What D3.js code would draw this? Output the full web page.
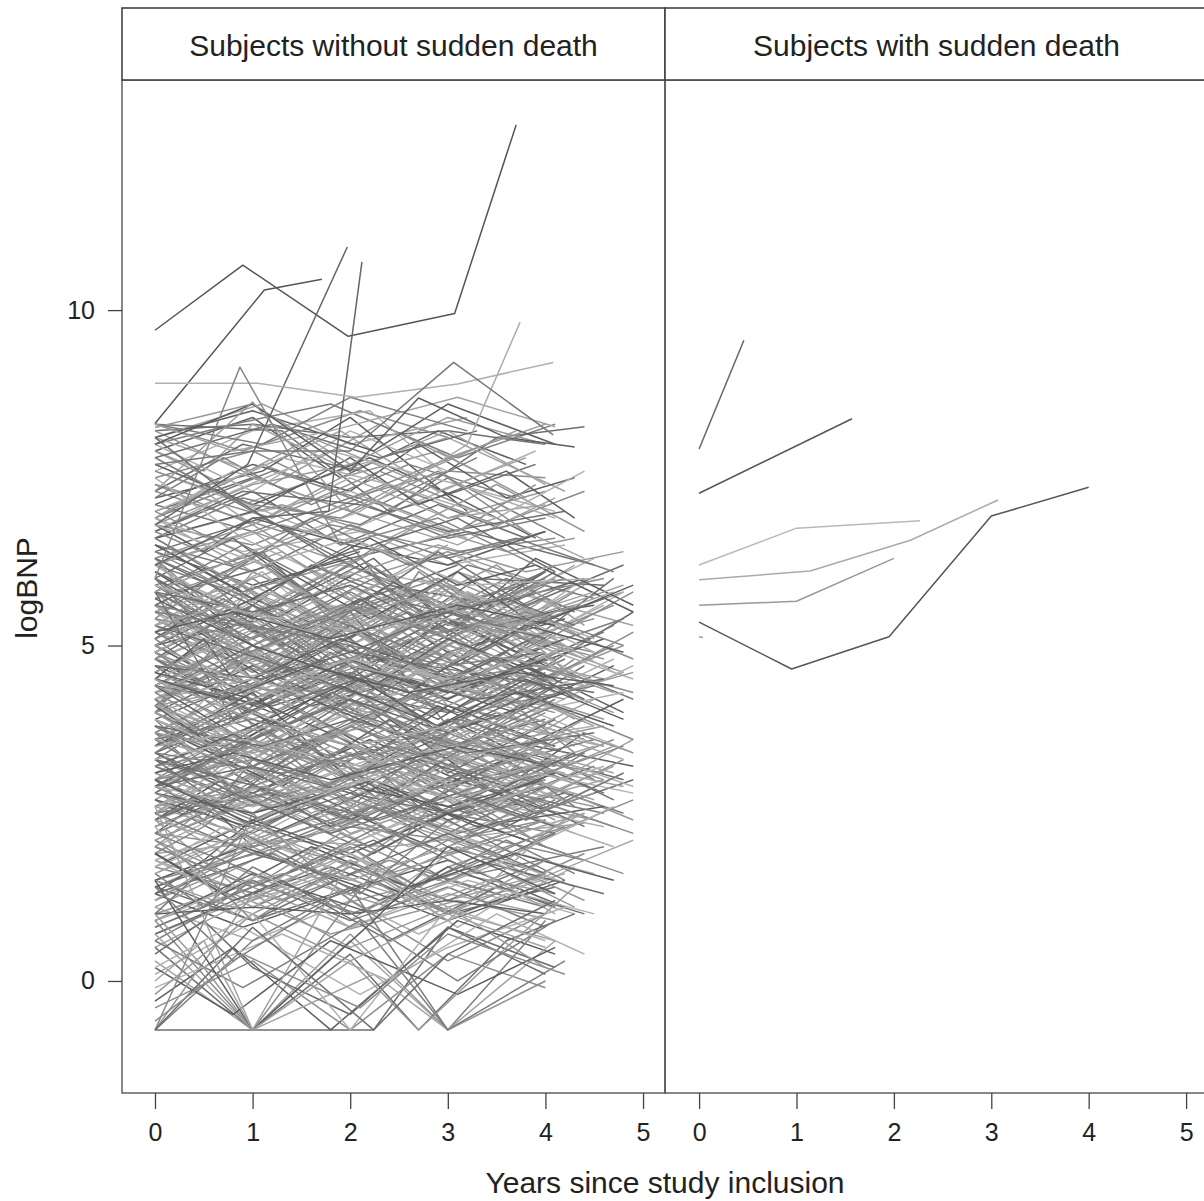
<!DOCTYPE html>
<meta charset="utf-8">
<style>
  body { margin: 0; background: #fff; font-family: "Liberation Sans", Arial, sans-serif; }
  .tick text { font-size: 25px; fill: #222; font-family: "Liberation Sans", Arial, sans-serif; }
  .tick line { stroke: #444; stroke-width: 1.3; }
  .lab { font-size: 30px; fill: #222; }
  path.subj { fill: none; stroke-width: 1.5; stroke-linejoin: round; }
</style>
<body>
<script src="https://cdn.jsdelivr.net/npm/d3@7"></script>
<script>

// visit schedules (years since inclusion)
var visitTimes = [
  [0, 1, 2, 3, 4],
  [0, 0.9, 2.1, 3, 4.2],
  [0, 1.1, 2, 3.2, 4.5],
  [0, 1, 1.9, 2.9, 3.8, 4.8],
  [0, 1.2, 2.3, 3.3, 4.6],
  [0, 0.8, 1.8, 3.1, 4.1],
  [0, 1, 2.2, 3.1, 3.9, 4.9],
  [0, 1.3, 2.4, 3.5, 4.4],
  [0, 0.5, 1, 2, 3, 4],
  [0, 1, 2, 2.7, 3.6, 4.3],
  [0, 1, 2.24, 3, 4.1],
  [0, 0.7, 1.6, 2.6, 3.7, 4.7]
];

// subjects without sudden death: [schedule, logBNP at each visit...]
var leftSubjects = [
  // upper band
  [0,8.2,8.3,8.1,8.2,8.0],[1,8.3,7.9,8.5,8.1],[2,8.1,8.6,8.0,8.4],[3,7.9,8.4,7.5,8.2,7.7],
  [4,8.2,7.4,8.3,7.6],[5,8.0,8.3,8.6,7.8,8.3],[6,7.6,8.2,8.5,7.4,7.9],[7,8.3,8.2,7.0,8.1,8.26],
  [0,7.5,7.9,7.2,7.6,7.5],[1,7.8,7.1,7.7,8.1,7.3],[2,7.2,7.6,8.4,7.0],[3,7.4,6.8,7.5,7.9,7.2],
  [4,6.9,7.6,7.1,7.8],[5,7.7,7.2,6.6,7.4,7.0],[6,7.0,7.5,6.9,7.3,7.7],[7,7.3,6.7,7.4,6.8,7.3],
  [8,7.9,7.6,8.3,7.6,8.2,7.4],[9,7.1,7.7,7.3,8.0,7.2,7.5],[0,6.8,7.4,7.7,6.9,7.3],[1,6.6,7.2,6.8,7.5,6.6],
  [2,7.6,7.0,7.3,6.6],[3,6.7,7.3,6.5,7.1,6.6],[4,7.4,6.9,7.6,7.0],[5,6.9,7.6,7.1,6.5,7.2],
  [6,7.7,7.1,7.8,7.2,6.6],[7,6.6,7.1,6.6,7.4,6.7],[11,7.2,7.8,7.1,7.7,7.2],[0,8.0,7.3,8.2,7.6],
  [1,7.3,8.0,7.6],[2,6.9,7.7,7.2,7.9],[3,8.1,7.6,8.2,7.3,7.8],[9,6.6,7.0,7.8,7.1,7.6,6.9],
  [11,7.9,7.4,8.1,7.5,8.2],[0,7.1,6.7,7.2,6.6,6.9],[5,6.7,7.3,7.9,7.4,6.9],[4,7.8,8.3,7.8,8.2],
  [6,6.8,6.5,7.2,6.7,7.4],[8,6.9,7.3,6.8,7.5,6.9,7.1],[10,8.1,8.5,7.9,8.6,8.0],[0,8.25,8.6,7.7,8.4,8.0],
  [2,8.3,8.0,8.7,8.2],[7,7.0,7.8,7.4,6.9,7.6],[1,6.7,7.3,7.1,6.7,7.0],[3,7.6,7.1,6.9,7.6,6.7],
  [5,8.3,7.9,8.2,8.7,8.26],[9,8.0,8.6,7.6,8.69,8.1,7.96],[0,7.3,8.63,7.0,7.8,8.3],
  [0,6.5,6.1,6.8,6.3,6.7],[1,6.9,6.4,6.7,6.2,6.5],[2,6.4,6.9,6.3,6.7,6.2],[5,6.7,6.2,6.8,6.4,6.6],
  [7,6.2,6.8,6.4,6.9,6.3],[8,6.8,6.4,6.9,6.5,6.2,6.7],[9,6.3,6.7,6.2,6.8,6.4,6.6],[0,7.8,7.0,6.2,5.6,6.0],
  [1,7.5,6.6,5.8,6.4,5.5],[5,8.1,7.2,6.3,6.9,6.1],[3,7.0,6.3,5.5,6.0,5.3,5.8],[9,6.9,6.1,5.4,6.0,5.6,6.2],
  // middle band
  [0,6.4,5.9,6.3,5.2,6.1],[1,6.2,5.4,6.0,6.4,5.8],[2,5.9,6.4,5.1,6.2,5.7],[3,6.1,5.5,6.2,5.9,5.0,5.8],
  [4,5.7,6.2,5.0,6.0,5.9],[5,6.3,5.3,6.1,5.5,6.0],[6,5.5,6.0,4.8,6.1,5.7,5.3],[7,6.0,5.0,5.9,5.6,6.0],
  [8,5.8,5.2,6.1,5.4,4.8,5.7],[9,6.2,5.7,6.5,5.3,6.0,5.5],[10,5.6,6.3,5.0,5.8,5.4],[11,6.0,5.3,6.2,5.6,4.9,6.0],
  [0,5.4,4.6,5.6,5.2,5.5],[1,5.2,5.9,4.7,5.5,5.0],[2,5.0,5.4,4.4,5.3,5.6],[3,5.3,4.6,5.4,5.9,5.1,4.6],
  [4,5.1,5.8,5.0,4.4,5.2],[5,5.5,4.7,5.6,5.2,4.5],[6,4.9,5.6,4.8,5.4,4.6,5.5],[7,5.2,4.5,5.3,5.8,5.1],
  [8,5.4,5.1,4.5,5.3,5.9,5.0],[9,5.0,5.7,5.1,4.4,5.3,5.6],[10,5.3,4.6,5.5,5.1,4.4],[11,5.1,5.7,4.9,5.5,4.6,5.3],
  [0,4.8,5.4,4.3,5.0,4.5],[1,4.6,5.3,4.5,4.0,4.8],[2,4.9,4.2,4.8,5.3,4.9],[3,4.5,5.1,4.3,4.9,4.1,4.6],
  [4,4.7,4.0,4.8,4.4,5.1],[5,4.4,5.0,4.2,4.9,4.3],[6,4.6,4.0,4.9,4.3,4.8,4.2],[7,4.3,4.9,4.0,4.6,4.4],
  [8,4.7,4.2,4.9,4.3,4.0,4.7],[9,4.2,4.8,4.3,4.9,4.1,4.8],[10,4.5,3.9,4.6,4.2,4.9],[11,4.4,4.9,4.1,4.5,4.0,4.7],
  [0,6.6,5.8,5.2,6.0,5.4],[1,5.8,6.5,5.6,5.1,5.9],[2,6.2,5.3,6.1,5.4,6.3],[3,5.6,6.3,5.4,6.4,5.6,6.2],
  [4,6.4,5.5,6.5,5.6,6.0],[5,5.3,6.0,5.1,6.1,5.3],[6,6.1,5.2,6.2,5.3,6.3,5.6],[7,5.7,6.4,5.4,6.2,5.3],
  [8,6.3,6.0,5.4,6.2,5.5,6.1],[9,5.5,6.3,5.3,6.0,5.2,5.9],[10,6.1,5.4,6.3,5.3,6.2],[11,5.4,6.1,5.1,5.8,5.0,5.6],
  [0,5.0,5.8,4.8,5.6,5.1],[1,5.6,4.8,5.7,4.9,5.4],[2,5.5,4.8,5.6,4.9,5.4],[3,4.9,5.6,4.7,5.6,4.9,5.4],
  [4,5.4,4.6,5.5,4.7,5.6],[5,4.8,5.5,4.6,5.5,4.9],[6,5.6,4.8,5.5,4.7,5.4,4.8],[7,4.8,5.5,4.5,5.4,4.8],
  [8,5.1,5.6,5.0,4.5,5.4,4.7],[9,5.6,4.9,5.5,4.8,5.6,4.9],[10,4.9,5.6,4.6,5.4,4.8],[11,5.6,4.9,5.5,4.8,5.4,4.6],
  [0,4.3,5.0,4.0,4.9,4.2],[1,4.9,4.1,4.7,4.0,4.8],[2,4.2,4.9,3.9,4.6,3.8],[3,4.8,4.0,4.6,3.9,4.7,4.0],
  [4,4.2,4.8,3.8,4.5,3.9],[5,4.7,3.9,4.6,4.0,4.6],[6,4.3,4.9,3.9,4.6,4.0,4.7],[7,4.6,3.8,4.5,3.9,4.7],
  [8,4.1,4.7,3.8,4.6,4.1,3.8],[9,4.6,4.0,4.7,3.9,4.5,3.9],[10,4.0,4.7,3.9,4.7,4.1],[11,4.8,4.1,4.8,4.0,4.6,4.0],
  [0,5.9,5.0,5.8,5.1,5.9],[2,5.3,6.1,5.0,5.8,5.1],[4,6.0,5.1,5.8,5.0,5.7],[6,5.2,6.0,4.9,5.7,5.0,5.8],
  [8,5.6,5.0,5.9,5.2,5.9,5.1],[1,5.0,4.3,5.2,4.4,5.1],[3,4.6,5.3,4.3,5.2,4.4,5.0],[5,5.1,4.3,5.0,4.4,5.2],
  [7,4.5,5.3,4.4,5.2,4.4],[9,4.8,4.1,5.0,4.2,4.9,4.2],[11,4.6,5.2,4.2,5.1,4.3,5.0],[0,6.2,6.7,5.7,6.5],
  [1,6.5,5.8,6.4],[2,4.4,5.2,4.1],[3,5.8,5.0],[4,4.9,5.8,4.6,5.3,4.4],[5,6.0,6.6,5.5,6.2],
  [6,4.4,5.2,4.3,5.1,4.4,5.2],[7,5.9,5.1,6.0,5.2,5.9],[8,4.5,5.1,4.1,4.8,4.2,4.9],[9,5.3,4.5,5.3,4.6,5.4,4.5],
  [10,5.8,5.1,6.0,5.2,6.1],[11,4.2,4.8,3.9,4.7,4.1,4.8],[0,5.2,4.4,5.3,4.5,5.2],[1,4.1,4.8,3.8,4.5],
  [4,5.5,6.1,5.1,5.7],[6,5.8,6.4,5.4,6.1,5.3,5.9],[3,5.0,4.4,5.3,4.6,5.4,5.9],[0,6.0,4.5,5.5,3.8,4.6],
  [2,3.5,5.0,4.2,5.8,4.9],[5,5.8,3.9,4.9,3.5,4.4],[9,4.0,5.6,4.5,6.1,5.2,5.8],[1,6.3,4.8,5.6,4.1,5.0],
  [6,6.5,5.7,6.6,5.9,6.2,5.5],[3,6.3,6.8,6.0,6.5,6.1,6.4],[11,6.6,6.0,6.9,6.2,6.6,6.1],[2,6.8,6.2,6.6,5.9,6.0],
  [0,6.3,5.6,4.9,5.5,5.1],[1,5.1,5.8,6.3,5.5,6.0],[2,4.6,5.3,5.9,5.2,5.8],[3,3.9,4.5,5.1,4.6,5.3,4.9],
  [4,5.9,5.2,4.6,5.3,4.8],[5,4.1,4.8,5.4,4.7,5.5],[6,3.6,4.3,4.9,4.4,5.0,4.5],[7,5.3,4.7,4.1,4.8,4.2],
  [8,4.9,4.4,5.0,5.6,5.1,5.7],[9,3.7,4.4,3.9,4.6,4.1,4.7],[10,5.7,5.0,4.4,5.1,4.5],[11,3.4,4.0,4.6,4.1,4.8,4.3],
  [0,5.6,5.3,5.0,4.7,4.9],[1,5.9,5.5,5.2,5.4,5.1],[2,4.7,4.5,4.9,4.6,4.3],[3,5.4,5.1,5.6,5.2,5.5,5.0],
  [4,4.3,4.6,4.4,4.9,4.5],[5,5.2,5.5,5.1,5.6,5.3],[6,4.1,4.4,4.0,4.5,4.2,4.6],[7,5.5,5.2,5.7,5.3,5.6],
  [8,4.4,4.7,4.3,4.8,4.5,4.9],[9,5.8,5.5,5.9,5.4,5.7,5.3],[10,4.2,4.5,4.1,4.4,4.0],[11,5.3,5.6,5.2,5.7,5.3,5.8],
  [0,4.6,4.2,4.7,4.3,4.8],[1,4.0,4.4,4.1,4.6,4.2],[2,4.5,4.1,4.6,4.0,4.4],[3,4.2,4.5,4.1,4.4,4.0,4.3],
  [4,4.4,4.1,4.6,4.2,4.5],[6,4.8,4.4,4.9,4.5,4.7,4.3],[8,4.3,4.6,4.2,4.7,4.4,4.1],[11,4.5,4.2,4.7,4.3,4.6,4.4],
  // lower-middle band
  [0,3.8,3.1,3.9,3.2,3.6],[1,3.5,4.1,3.3,3.7,3.0],[2,3.2,3.8,2.9,3.5,3.8],[3,3.9,3.2,3.7,2.9,3.4,3.0],
  [4,3.0,3.6,2.8,3.4,3.1],[5,3.6,2.9,3.5,2.8,3.3],[6,3.3,2.8,3.6,3.0,3.5,3.2],[7,2.9,3.6,2.7,3.3,2.9],
  [8,3.7,3.1,3.6,3.0,3.5,2.9],[9,3.1,3.8,3.1,3.6,2.9,3.4],[10,3.4,2.8,3.5,2.9,3.3],[11,3.0,3.6,2.8,3.5,3.0,3.6],
  [0,2.6,3.2,2.4,3.0,2.7],[1,2.9,2.3,3.0,2.4,2.8],[2,2.5,3.1,2.2,2.8,2.4],[3,2.8,2.2,2.9,2.3,3.0,2.5],
  [4,2.4,3.0,2.1,2.7,2.3],[5,2.7,2.1,2.8,2.2,2.6],[6,2.3,2.9,2.0,2.6,2.1,2.7],[7,2.6,2.0,2.7,2.1,2.5],
  [8,2.2,2.7,2.0,2.5,1.9,2.4],[9,2.7,2.1,2.6,2.0,2.6,2.2],[10,2.1,2.7,1.9,2.5,2.2],[11,2.5,1.9,2.6,2.0,2.5,2.0],
  [0,4.0,3.3,4.2,3.5,3.9],[1,3.7,4.4,3.6,4.1,3.4],[2,4.1,3.4,4.0,3.3,4.2],[3,3.4,4.0,3.2,4.1,3.5,4.2],
  [4,3.9,3.2,4.0,3.4,3.8],[5,3.3,4.0,3.2,3.9,3.5],[6,4.2,3.5,4.1,3.3,4.0,3.4],[7,3.5,4.2,3.3,4.0,3.6],
  [8,3.4,3.9,3.2,3.8,3.3,4.0],[9,3.9,3.3,4.1,3.4,4.0,3.5],[10,3.6,4.2,3.4,4.1,3.5],[11,3.8,3.2,3.9,3.3,4.0,3.5],
  [0,3.2,2.6,3.4,2.7,3.1],[1,2.5,3.2,2.6,3.3,2.7],[2,3.0,2.4,3.1,2.5,3.2],[3,2.4,3.1,2.5,3.2,2.6,3.3],
  [4,3.3,2.6,3.2,2.5,3.0],[5,2.4,3.1,2.3,3.0,2.5],[6,3.1,2.5,3.2,2.4,3.0,2.4],[7,3.2,2.5,3.3,2.6,3.4],
  [8,2.8,3.3,2.6,3.2,2.7,3.3],[9,2.3,2.9,2.4,3.0,2.3,2.8],[10,3.0,2.4,3.2,2.5,3.1],[11,2.7,3.3,2.5,3.1,2.6,3.2],
  [0,3.5,4.3,3.0,3.9,3.2],[1,4.2,3.0,3.8,2.9,3.6],[2,2.8,3.7,2.6,3.9,3.0],[3,4.1,3.3,4.3,3.1,3.8,3.3],
  [4,2.9,3.9,2.7,3.6,2.8],[5,3.9,2.8,3.7,2.6,3.6],[6,2.7,3.5,2.5,3.8,2.8,3.6],[7,3.8,2.9,3.9,2.8,3.7],
  [8,2.5,3.0,3.6,2.7,3.4,2.6],[9,3.6,2.7,3.5,2.6,3.3,2.6],[10,2.6,3.4,2.4,3.6,2.7],[11,3.3,2.6,3.6,2.5,3.4,2.7],
  [0,2.2,2.0,2.3,2.1,2.4],[7,1.9,2.1,2.0,2.2,2.35],[1,4.4,3.6,4.5,3.7,4.3],[5,2.0,2.9,2.2,3.1,2.4],
  [2,3.7,3.0,3.8,3.1,3.6],[4,3.6,4.3,3.3,4.1,3.5],[6,2.6,3.2,2.4,3.1,2.5,3.0],[9,4.3,3.5,4.4,3.6,4.2,3.4],
  [3,3.1,2.5,3.3,2.4,3.2,2.9],[11,4.1,3.4,4.2,3.6,4.3,3.8],[0,4.5,3.6,3.0,3.8,2.9],[8,3.0,2.4,3.3,2.8,2.2,2.9],
  [1,2.2,2.8,2.1,2.7,2.3],[10,3.8,3.2,4.0,3.1,3.9],[6,3.8,3.2,4.3,3.4,4.2,3.6],[2,2.3,2.9,2.5,3.3,2.7],
  [4,2.7,2.2,2.9,2.3,2.6],[7,4.0,3.3,4.1,3.2,3.9],[5,4.2,3.4,4.3,3.5,4.1],[3,2.6,3.2,2.3,3.0,2.4,3.1],
  [0,2.9,3.6,4.2,3.7,4.4],[1,4.4,3.8,3.2,3.9,3.3],[2,2.1,2.8,3.4,2.9,3.5],[3,3.2,3.8,4.4,3.8,4.5,3.9],
  [4,4.1,3.5,2.9,3.6,3.0],[5,2.8,3.5,4.1,3.5,4.2],[6,2.0,2.7,3.3,2.8,3.4,2.9],[7,3.3,2.8,2.2,2.9,2.3],
  [8,1.9,2.3,2.9,3.5,3.0,3.6],[9,4.5,3.9,3.3,3.9,3.4,4.0],[10,1.7,2.4,3.0,2.5,3.1],[11,4.0,3.4,2.8,3.4,2.9,3.5],
  [0,3.6,3.9,3.5,3.8,3.4],[1,3.3,3.6,3.2,3.5,3.1],[2,3.8,3.5,3.9,3.4,3.7],[3,3.0,3.3,2.9,3.4,3.0,3.5],
  [4,3.5,3.8,3.4,3.9,3.5],[5,3.1,3.4,3.0,3.5,3.2],[6,3.7,3.4,3.8,3.5,3.9,3.4],[7,3.4,3.1,3.5,3.0,3.4],
  [8,3.9,3.6,4.0,3.5,3.8,3.4],[9,2.9,3.2,2.8,3.3,2.9,3.4],[10,3.2,3.5,3.1,3.6,3.2],[11,3.6,3.3,3.7,3.2,3.5,3.1],
  [0,2.8,2.5,2.9,2.6,3.0],[2,2.6,2.9,2.5,3.0,2.6],[4,2.5,2.8,2.4,2.9,2.5],[6,2.9,2.6,3.0,2.7,3.1,2.8],
  [8,2.4,2.7,2.3,2.8,2.5,2.9],[11,2.8,2.5,2.9,2.4,2.8,2.3],
  // lower band
  [0,1.6,2.3,2.9,2.3,3.0],[1,3.0,2.4,1.8,2.5,1.9],[2,1.5,2.1,2.7,2.2,2.8],[3,2.2,2.8,2.3,2.9,2.4,3.1],
  [4,1.8,2.5,3.1,2.6,3.2],[5,3.4,2.8,2.2,2.8,2.3],[6,1.4,2.0,2.6,2.1,2.7,2.2],[7,2.4,1.8,2.4,1.9,2.5],
  [8,1.3,1.8,2.4,1.9,2.5,2.0],[9,2.9,2.3,1.7,2.4,1.8,2.5],[10,2.5,1.9,2.6,2.0,2.7],[11,1.7,2.3,1.8,2.4,1.9,2.6],
  [0,1.4,1.9,1.5,2.0,1.6],[7,1.5,2.0,1.6,2.1,1.8],
  [0,1.8,1.3,1.9,1.2,1.6],[1,1.5,2.0,1.4,1.8,1.1],[5,1.2,1.7,1.1,1.6,1.3],[8,1.9,1.5,1.1,1.7,1.2,1.8],
  [9,1.0,1.5,0.9,1.6,1.2,1.7],[10,1.4,0.9,1.5,1.0,1.4],[7,1.7,1.2,1.8,1.3,1.9],[0,0.9,1.4,0.8,1.3,1.0],
  [1,1.3,0.8,1.4,0.9,1.5],[5,0.8,1.3,0.7,1.2,0.9],[8,1.6,1.1,1.7,1.0,1.5,1.1],[9,1.1,0.6,1.2,0.7,1.3,1.0],
  [10,2.0,1.4,2.1,1.5,2.2],[0,1.2,2.0,1.3,2.1,1.6],[1,0.7,1.2,1.8,1.1,1.6],[5,1.9,1.2,1.7,1.0,1.5],
  [7,1.0,1.6,1.1,1.8,1.2],[8,0.6,1.0,1.5,0.9,1.4,0.8],[9,1.8,1.1,1.9,1.3,1.8,1.4],[0,1.5,0.9,1.6,2.2,1.6],
  [1,2.1,1.5,1.0,1.7,2.3],[5,0.5,1.1,1.6,1.0,0.6],[10,0.9,1.6,1.0,1.7,1.1],[0,1.1,1.8,2.4,1.9,2.4],
  [9,0.8,1.4,2.0,1.4,2.1,1.6],[2,1.7,2.3,1.5,2.1,1.6],[4,1.3,1.9,1.2,1.8,1.3],[3,2.0,1.4,2.2,1.5,2.1,1.6],
  [6,1.6,2.2,1.4,2.0,1.5,2.1],[11,1.9,1.3,2.0,1.4,1.9,1.5],[0,2.4,1.2,2.0,1.0,1.8],[1,1.0,2.2,1.3,2.4,1.5],
  [5,2.3,1.0,2.1,0.8,1.7],[7,0.7,1.5,0.6,1.4,1.0],[8,2.1,1.6,0.9,1.8,1.0,1.6],[10,1.2,2.1,1.0,1.9,1.0],
  [0,1.0,1.1,1.0,1.2,1.0],[9,1.5,1.0,1.7,1.1,1.6,1.1],[4,2.2,1.5,2.3,1.6,2.0],[2,0.9,1.6,0.8,1.5,1.0],
  // floor band
  [10,-0.73,-0.73,-0.73,0.8,0.2],[0,0.9,-0.73,1.2,0.3,1.0],[0,0.3,-0.73,0.6,-0.73,0.0],[5,-0.3,0.5,-0.73,0.9,0.4],
  [8,1.0,0.2,-0.73,0.7,-0.73,0.0],[0,-0.73,0.6,1.4,-0.73,0.9],[1,0.1,0.8,-0.2,0.5,1.1],[9,0.5,-0.73,0.4,-0.73,0.6,1.0],
  [0,-0.4,0.3,-0.73,0.4,-0.1],[10,0.7,-0.73,0.1,-0.73,0.6],[5,0.2,-0.5,0.6,-0.2,0.5],[0,-0.73,1.3,0.5,1.1,0.2],
  [1,0.6,-0.1,0.9,-0.73,0.3],[7,-0.1,0.7,0.0,1.0,0.4],[8,0.4,0.9,0.2,-0.5,0.8,0.1],[0,-0.73,2.5,1.2,2.9,2.0],
  [0,2.6,-0.73,1.8,0.9,2.2],[10,1.5,-0.73,0.9,2.0,1.3],[9,-0.2,1.0,0.3,-0.73,0.5,1.4],[5,1.4,0.3,1.2,0.0,0.9],
  [0,0.2,1.0,-0.73,1.1,0.6],[10,-0.73,0.8,-0.73,0.4,1.2],[1,-0.6,0.4,-0.4,0.7,0.1],[8,0.0,0.6,-0.73,0.3,1.0,0.5]
];

// a few isolated trajectories of subjects without sudden death: [time, logBNP]
var leftOutliers = [
  [[0,9.7],[0.9,10.67],[1.98,9.61],[3.07,9.95],[3.7,12.76]],
  [[0,8.31],[1.12,10.3],[1.71,10.46]],
  [[0,6.8],[0.95,7.7],[1.97,10.94]],
  [[0,6.2],[1.0,6.9],[1.78,7.0],[2.12,10.72]],
  [[0,5.8],[1.0,6.4],[2.1,7.0],[3.2,8.0],[3.74,9.82]],
  [[0,8.91],[1.05,8.91],[2.06,8.7],[3.1,8.9],[4.08,9.22]],
  [[0,6.0],[0.87,9.15],[1.9,6.5],[2.9,6.9],[3.9,6.2]],
  [[0,7.7],[1.0,7.9],[2.0,7.9],[3.06,9.22],[4.08,8.14]]
];

// subjects with sudden death: [time, logBNP]
var rightSubjects = [
  [[0,7.93],[0.46,9.55]],
  [[0,7.27],[1.57,8.38]],
  [[0,6.2],[1.0,6.75],[2.27,6.86]],
  [[0,5.98],[1.14,6.11],[2.17,6.57],[3.07,7.17]],
  [[0,5.6],[1.0,5.66],[2.0,6.3]],
  [[0,5.35],[0.95,4.65],[1.95,5.13],[3.0,6.93],[4.0,7.36]],
  [[0,5.13],[0.04,5.12]]
];

var panelLabels = ["Subjects without sudden death", "Subjects with sudden death"];
var xTicks = [0, 1, 2, 3, 4, 5];
var yTicks = [0, 5, 10];

var leftGreys = ["#6e6e6e", "#8c8c8c", "#a3a3a3", "#5e5e5e", "#999999", "#7d7d7d", "#b0b0b0"];
var outlierGreys = ["#555", "#555", "#666", "#666", "#aaa", "#b0b0b0", "#888", "#777"];
var rightGreys = ["#666", "#555", "#b8b8b8", "#aaa", "#999", "#555", "#999"];

var W = 1204, H = 1201;
var panelTop = 80, panelBottom = 1093, stripTop = 8;
var panels = [{x0: 122, x1: 665}, {x0: 665, x1: 1208}];

var y = d3.scaleLinear().domain([-1.67, 13.43]).range([panelBottom, panelTop]);
var xl = d3.scaleLinear().domain([-0.338, 5.225]).range([panels[0].x0, panels[0].x1]);
var xr = d3.scaleLinear().domain([-0.35, 5.225]).range([panels[1].x0, panels[1].x1]);

var svg = d3.select("body").append("svg")
    .attr("width", W)
    .attr("height", H);

var defs = svg.append("defs");
panels.forEach(function(p, i) {
  defs.append("clipPath").attr("id", "clip" + i)
    .append("rect")
    .attr("x", p.x0).attr("y", panelTop)
    .attr("width", p.x1 - p.x0).attr("height", panelBottom - panelTop);
});

function lineFor(x) {
  return d3.line().x(function(d) { return x(d[0]); }).y(function(d) { return y(d[1]); });
}

var leftData = leftSubjects.map(function(s) {
  var t = visitTimes[s[0]];
  return s.slice(1).map(function(v, i) { return [t[i], v]; });
});

var gl = svg.append("g").attr("clip-path", "url(#clip0)");
gl.selectAll("path.left")
    .data(leftData)
  .enter().append("path")
    .attr("class", "subj left")
    .attr("d", lineFor(xl))
    .attr("stroke", function(d, i) { return leftGreys[i % leftGreys.length]; });

gl.selectAll("path.out")
    .data(leftOutliers)
  .enter().append("path")
    .attr("class", "subj out")
    .attr("d", lineFor(xl))
    .attr("stroke", function(d, i) { return outlierGreys[i]; });

var gr = svg.append("g").attr("clip-path", "url(#clip1)");
gr.selectAll("path")
    .data(rightSubjects)
  .enter().append("path")
    .attr("class", "subj")
    .attr("d", lineFor(xr))
    .attr("stroke", function(d, i) { return rightGreys[i]; });

// panel and strip frames
panels.forEach(function(p, i) {
  svg.append("rect")
      .attr("x", p.x0).attr("y", panelTop)
      .attr("width", p.x1 - p.x0).attr("height", panelBottom - panelTop)
      .attr("fill", "none").attr("stroke", "#555").attr("stroke-width", 1.4);
  svg.append("rect")
      .attr("x", p.x0).attr("y", stripTop)
      .attr("width", p.x1 - p.x0).attr("height", panelTop - stripTop)
      .attr("fill", "#fff").attr("stroke", "#444").attr("stroke-width", 1.6);
  svg.append("text")
      .attr("class", "lab")
      .attr("x", (p.x0 + p.x1) / 2).attr("y", 56)
      .attr("text-anchor", "middle")
      .text(panelLabels[i]);
});

var yAxis = d3.axisLeft(y).tickValues(yTicks).tickFormat(d3.format("d")).tickSize(14).tickPadding(13);
svg.append("g")
    .attr("transform", "translate(" + panels[0].x0 + ",0)")
    .call(yAxis)
    .call(function(g) { g.select(".domain").remove(); });

[xl, xr].forEach(function(x) {
  svg.append("g")
      .attr("transform", "translate(0," + panelBottom + ")")
      .call(d3.axisBottom(x).tickValues(xTicks).tickFormat(d3.format("d")).tickSize(16).tickPadding(14))
      .call(function(g) { g.select(".domain").remove(); });
});

svg.selectAll(".tick text").attr("font-size", null).attr("font-family", null);

svg.append("text")
    .attr("class", "lab")
    .attr("x", 665).attr("y", 1193)
    .attr("text-anchor", "middle")
    .text("Years since study inclusion");

svg.append("text")
    .attr("class", "lab")
    .attr("transform", "translate(37,588) rotate(-90)")
    .attr("text-anchor", "middle")
    .text("logBNP");

</script>
